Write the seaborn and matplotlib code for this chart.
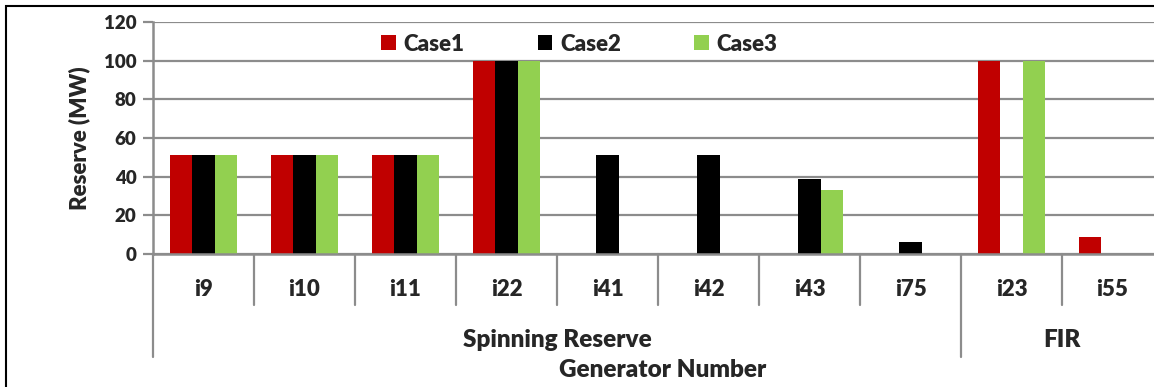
import matplotlib
matplotlib.use("Agg")
import matplotlib.pyplot as plt
import matplotlib.transforms as mtransforms
from matplotlib.patches import Rectangle
import seaborn as sns
import pandas as pd

# Reserve allocation per generator (MW)
generators = ["i9", "i10", "i11", "i22", "i41", "i42", "i43", "i75", "i23", "i55"]
case1 = [51, 51, 51, 100, 0, 0, 0, 0, 100, 9]
case2 = [51, 51, 51, 100, 51, 51, 39, 6, 0, 0]
case3 = [51, 51, 51, 100, 0, 0, 33, 0, 100, 0]
cases = ["Case1", "Case2", "Case3"]
colors = ["#C00000", "#000000", "#92D050"]
groups = [("Spinning Reserve", 0, 8), ("FIR", 8, 10)]
y_ticks = [0, 20, 40, 60, 80, 100, 120]

rows = []
for name, vals in zip(cases, [case1, case2, case3]):
    for g, v in zip(generators, vals):
        rows.append({"gen": g, "value": v, "case": name})
df = pd.DataFrame(rows)

sns.set_theme(style="white")
plt.rcParams["font.family"] = ["Lato", "DejaVu Sans"]
WEIGHT = "heavy"
plt.rcParams["font.weight"] = WEIGHT

fig = plt.figure(figsize=(11.54, 3.87), dpi=100)
W, H = 1154, 387
ax = fig.add_axes([153 / W, 1 - 254 / H, 1010 / W, 232 / H])

sns.barplot(data=df, x="gen", y="value", hue="case", order=generators,
            hue_order=cases, palette=colors, width=0.66, saturation=1,
            ax=ax, edgecolor="none", linewidth=0)

grid_c = "#8c8c8c"
ax.set_ylim(0, 120)
ax.set_xlim(-0.5, len(generators) - 0.5)
ax.set_yticks(y_ticks)
ax.set_yticklabels([str(t) for t in y_ticks], fontsize=13.5, fontweight=WEIGHT)
ax.yaxis.grid(True, color=grid_c, linewidth=1.6)
ax.set_axisbelow(True)
ax.tick_params(axis="y", length=7, width=1.6, color=grid_c, pad=5, left=True)
ax.tick_params(axis="x", bottom=False, labelbottom=False)
for side in ["top", "right"]:
    ax.spines[side].set_visible(False)
for side in ["left", "bottom"]:
    ax.spines[side].set_color(grid_c)
    ax.spines[side].set_linewidth(1.8)
ax.set_xlabel("")
ax.set_ylabel("Reserve (MW)", fontsize=16, fontweight=WEIGHT, labelpad=10)

# Two-level category axis below the plot
trans = mtransforms.blended_transform_factory(ax.transData, ax.transAxes)
group_edges = {start - 0.5 for _, start, _ in groups} | {len(generators) - 0.5}
for i in range(len(generators) + 1):
    xb = i - 0.5
    y_end = -0.444 if xb in group_edges else -0.22
    ax.plot([xb, xb], [0, y_end], transform=trans, color=grid_c,
            linewidth=1.6, clip_on=False)
for i, g in enumerate(generators):
    ax.text(i, -0.155, g, transform=trans, ha="center", va="center",
            fontsize=16, fontweight=WEIGHT)
for label, start, end in groups:
    ax.text((start + end - 1) / 2, -0.371, label, transform=trans,
            ha="center", va="center", fontsize=17.5, fontweight=WEIGHT)
ax.text(0.505, -0.5, "Generator Number", transform=ax.transAxes,
        ha="center", va="center", fontsize=17.5, fontweight=WEIGHT)

handles, labels = ax.get_legend_handles_labels()
ax.legend(handles, labels, ncol=3, loc="center", bbox_to_anchor=(0.422, 0.905),
          frameon=False, prop={"weight": WEIGHT, "size": 16},
          handlelength=0.65, handleheight=0.65, handletextpad=0.35,
          columnspacing=3.3, borderpad=0)

# Outer frame
fig.patches.append(Rectangle((6 / W, -0.1), 1.2, 1 - 6 / H + 0.1,
                             transform=fig.transFigure, fill=False,
                             edgecolor="black", linewidth=1.5))

fig.savefig("out.png", dpi=100)
